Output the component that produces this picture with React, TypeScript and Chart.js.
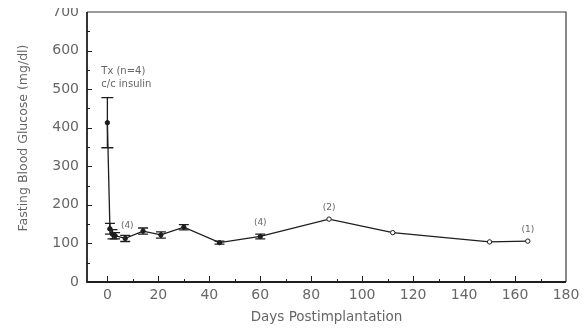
import React, { useEffect, useRef } from "react";
import { Chart, registerables } from "chart.js";

Chart.register(...registerables);

// ---- data ----
const days = [0, 1, 2, 3, 7, 14, 21, 30, 44, 60, 87, 112, 150, 165];
const glucose = [413, 138, 124, 120, 113, 132, 122, 142, 102, 118, 163, 128, 104, 106];
const sem = [65, 14, 12, 8, 8, 8, 8, 7, 4, 6, 0, 0, 0, 0];

const xTickValues = [0, 20, 40, 60, 80, 100, 120, 140, 160, 180];
const yTickValues = [0, 100, 200, 300, 400, 500, 600, 700];

const noteTexts = ["(4)", "(4)", "(2)", "(1)"];
const noteDays = [7.8, 60, 87, 165];
const noteValues = [145, 153, 192, 135];

const txLines = ["Tx (n=4)", "c/c insulin"];
const txDay = -2.4;
const txValues = [546, 511];

const xTitle = "Days Postimplantation";
const yTitle = "Fasting Blood Glucose (mg/dl)";

const INK = "#1e1e1e";
const TEXT = "#666666";
const FONT = "'DejaVu Sans', sans-serif";

const decor = {
  id: "decor",
  beforeDatasetsDraw(chart: any) {
    const { ctx, scales } = chart;
    const xs = scales.x;
    const ys = scales.y;
    ctx.save();
    ctx.strokeStyle = INK;
    ctx.lineWidth = 1.3;
    for (let i = 0; i < days.length; i++) {
      if (!sem[i]) continue;
      const x = xs.getPixelForValue(days[i]);
      const yt = ys.getPixelForValue(glucose[i] + sem[i]);
      const yb = ys.getPixelForValue(glucose[i] - sem[i]);
      const hw = i === 0 ? 6 : 5;
      ctx.beginPath();
      ctx.moveTo(x, yt);
      ctx.lineTo(x, yb);
      ctx.moveTo(x - hw, yt);
      ctx.lineTo(x + hw, yt);
      ctx.moveTo(x - hw, yb);
      ctx.lineTo(x + hw, yb);
      ctx.stroke();
    }
    ctx.restore();
  },
  afterDraw(chart: any) {
    const { ctx, chartArea, scales } = chart;
    const xs = scales.x;
    const ys = scales.y;
    const { left, right, top, bottom } = chartArea;
    ctx.save();
    // frame
    ctx.strokeStyle = "#3a3a3a";
    ctx.lineWidth = 1.2;
    ctx.beginPath();
    ctx.moveTo(left, top);
    ctx.lineTo(right, top);
    ctx.lineTo(right, bottom);
    ctx.stroke();
    ctx.strokeStyle = INK;
    ctx.lineWidth = 1.8;
    ctx.beginPath();
    ctx.moveTo(left, top);
    ctx.lineTo(left, bottom);
    ctx.lineTo(right, bottom);
    ctx.stroke();

    // inward ticks
    ctx.lineWidth = 1;
    ctx.strokeStyle = INK;
    ctx.beginPath();
    for (let i = 0; i < xTickValues.length; i++) {
      const v = xTickValues[i];
      if (v < xs.max) {
        const px = Math.round(xs.getPixelForValue(v)) + 0.5;
        ctx.moveTo(px, bottom);
        ctx.lineTo(px, bottom - 6);
      }
      if (i < xTickValues.length - 1) {
        const m = (v + xTickValues[i + 1]) / 2;
        const pm = Math.round(xs.getPixelForValue(m)) + 0.5;
        ctx.moveTo(pm, bottom);
        ctx.lineTo(pm, bottom - 3);
      }
    }
    for (let i = 0; i < yTickValues.length; i++) {
      const v = yTickValues[i];
      if (v > ys.min && v < ys.max) {
        const py = Math.round(ys.getPixelForValue(v)) + 0.5;
        ctx.moveTo(left, py);
        ctx.lineTo(left + 5, py);
      }
      if (i < yTickValues.length - 1) {
        const m = (v + yTickValues[i + 1]) / 2;
        const pm = Math.round(ys.getPixelForValue(m)) + 0.5;
        ctx.moveTo(left, pm);
        ctx.lineTo(left + 3, pm);
      }
    }
    ctx.stroke();

    // tick labels
    ctx.fillStyle = TEXT;
    ctx.font = `14px ${FONT}`;
    ctx.textBaseline = "middle";
    ctx.textAlign = "center";
    for (const v of xTickValues) {
      ctx.fillText(String(v), xs.getPixelForValue(v), bottom + 13);
    }
    ctx.textAlign = "right";
    for (const v of yTickValues) {
      ctx.fillText(String(v), left - 8, ys.getPixelForValue(v));
    }

    // annotations
    ctx.font = `9px ${FONT}`;
    ctx.textAlign = "center";
    for (let i = 0; i < noteTexts.length; i++) {
      ctx.fillText(noteTexts[i], xs.getPixelForValue(noteDays[i]), ys.getPixelForValue(noteValues[i]));
    }
    ctx.font = `10px ${FONT}`;
    ctx.textAlign = "left";
    for (let i = 0; i < txLines.length; i++) {
      ctx.fillText(txLines[i], xs.getPixelForValue(txDay), ys.getPixelForValue(txValues[i]));
    }

    // axis titles
    ctx.font = `13.5px ${FONT}`;
    ctx.textAlign = "center";
    ctx.fillText(xTitle, (left + right) / 2, chart.height - 7);
    ctx.save();
    ctx.translate(16, (top + bottom) / 2 - 9);
    ctx.rotate(-Math.PI / 2);
    ctx.font = `12.5px ${FONT}`;
    ctx.fillText(yTitle, 0, 0);
    ctx.restore();

    ctx.restore();
  },
};

export default function App() {
  const ref = useRef<HTMLCanvasElement | null>(null);
  useEffect(() => {
    if (!ref.current) return;
    const chart = new Chart(ref.current, {
      type: "line",
      data: {
        datasets: [
          {
            data: days.map((d, i) => ({ x: d, y: glucose[i] })),
            borderColor: INK,
            borderWidth: 1.3,
            pointRadius: 2.2,
            pointBorderWidth: 1,
            pointBorderColor: INK,
            pointBackgroundColor: sem.map((s) => (s ? INK : "#ffffff")),
            tension: 0,
            fill: false,
          },
        ],
      },
      options: {
        animation: false,
        responsive: true,
        maintainAspectRatio: false,
        layout: { padding: { top: 12, right: 14, left: 0, bottom: 0 } },
        plugins: {
          legend: { display: false },
          tooltip: { enabled: false },
          title: { display: false },
        },
        scales: {
          x: {
            type: "linear",
            min: -8,
            max: 180,
            grid: { display: false, drawTicks: false },
            border: { display: false },
            ticks: { display: false },
            afterBuildTicks: (s: any) => {
              s.ticks = xTickValues.map((v) => ({ value: v }));
            },
            afterFit: (s: any) => {
              s.height = 42;
            },
          },
          y: {
            type: "linear",
            min: 0,
            max: 700,
            grid: { display: false, drawTicks: false },
            border: { display: false },
            ticks: { display: false },
            afterBuildTicks: (s: any) => {
              s.ticks = yTickValues.map((v) => ({ value: v }));
            },
            afterFit: (s: any) => {
              s.width = 79;
            },
          },
        },
      },
      plugins: [decor],
    });
    return () => chart.destroy();
  }, []);
  return (
    <div style={{ marginTop: -8, width: 572, height: 324, position: "relative" }}>
      <canvas ref={ref} />
    </div>
  );
}
